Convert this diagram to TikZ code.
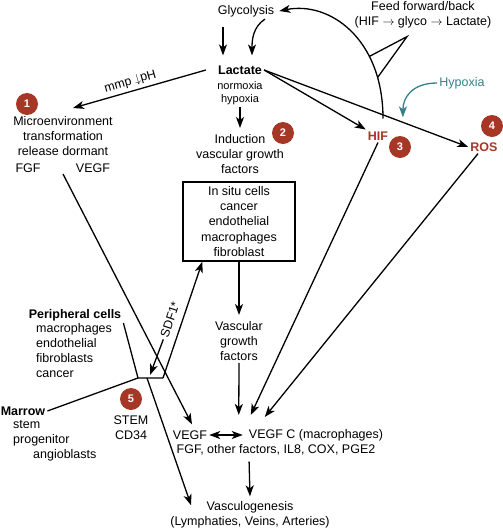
\documentclass[tikz,border=0pt]{standalone}
\usepackage{fontspec}
\setmainfont{Liberation Sans}
\usetikzlibrary{arrows.meta}

\definecolor{figred}{RGB}{166,55,38}
\definecolor{figteal}{RGB}{52,128,140}

\tikzset{
  lbl/.style={font=\fontsize{12.5}{15.2}\selectfont, align=center, inner sep=2pt},
  sublbl/.style={font=\fontsize{11}{13.3}\selectfont, align=center, inner sep=2pt},
  redlbl/.style={lbl, text=figred, font=\fontsize{12.5}{15.2}\selectfont\bfseries},
  badge/.style={circle, fill=figred, text=white, inner sep=0pt, minimum size=22pt, font=\fontsize{11}{11}\selectfont\bfseries},
  conn/.style={line width=1.3pt},
  arr/.style={conn, ->},
  arrtwo/.style={conn, <->}
}

\begin{document}
\begin{tikzpicture}[x=1pt,y=-1pt,>={Stealth[length=11pt,width=8pt,inset=3pt]}]
\useasboundingbox (0,0) rectangle (503,531);

% top row
\node[lbl] (glyco) at (246,11) {Glycolysis};
\node[lbl] (lactate) at (240,70) {\textbf{Lactate}};
\node[sublbl] (oxia) at (240,93) {normoxia\\hypoxia};
\node[lbl] (fb) at (423,15) {Feed forward/back\\(HIF $\rightarrow$ glyco $\rightarrow$ Lactate)};
\node[lbl, text=figteal] (hypox) at (462,83) {Hypoxia};
\node[redlbl] (hif) at (378,136) {HIF};
\node[redlbl] (ros) at (484,147) {ROS};
\node[badge] (b3) at (400,147) {3};
\node[badge] (b4) at (492,126) {4};

% microenvironment
\node[badge] (b1) at (27,104) {1};
\node[lbl] (micro) at (63,136) {Microenvironment\\transformation\\release dormant};
\node[lbl] (fgfl) at (28,168) {FGF};
\node[lbl] (vegfl) at (93,168) {VEGF};
\coordinate (mstart) at (63,174);

% middle column
\node[lbl] (induct) at (240,154) {Induction\\vascular growth\\factors};
\node[badge] (b2) at (283,133) {2};
\node[lbl, draw, line width=1.3pt, minimum width=112pt, minimum height=79pt] (insitu) at (239,221.5) {In situ cells\\cancer\\endothelial\\macrophages\\fibroblast};
\node[lbl] (vgf) at (239,341) {Vascular\\growth\\factors};

% bottom
\node[lbl] (vegf) at (190,435) {VEGF};
\node[lbl] (vegfc) at (316,435) {VEGF C (macrophages)};
\node[lbl] (fgfrow) at (276,450) {FGF, other factors, IL8, COX, PGE2};
\node[lbl] (vasc) at (250,515) {Vasculogenesis\\(Lymphaties, Veins, Arteries)};

% marrow side
\node[lbl] (peri) at (75,315) {\textbf{Peripheral cells}};
\node[lbl, align=left, anchor=north west, inner sep=0pt] (perisub) at (36,323) {macrophages\\endothelial\\fibroblasts\\cancer};
\node[lbl] (marrow) at (23,411) {\textbf{Marrow}};
\node[lbl, align=left, anchor=north west, inner sep=0pt] (marrowsub) at (13,420) {stem\\progenitor\\\hspace*{20pt}angioblasts};
\node[badge] (b5) at (131,399) {5};
\node[lbl] (stem) at (131,428) {STEM\\CD34};
\coordinate (pa) at (138,378);
\coordinate (pb) at (163,378);
\coordinate (pc) at (147,378);
\coordinate (pm) at (150,375);

% glycolysis loop
\draw[arr, shorten <=8pt] ([xshift=-23pt]glyco.south) -- ([xshift=-17pt,yshift=8pt]lactate.north);
\draw[arr] ([xshift=19pt]glyco.south) .. controls +(-12,8) and +(0,-16) .. ([xshift=12pt,yshift=8pt]lactate.north);
\draw[arr] ([xshift=5pt,yshift=11pt]hif.north) .. controls +(0,-80) and +(50,-10) .. ([xshift=3pt]glyco.east)
  coordinate[pos=0.19] (w1) coordinate[pos=0.31] (w2);
\draw[conn] (w1) -- ([xshift=-16pt,yshift=-6pt]fb.south) -- (w2);

% from lactate
\draw[arr] ([xshift=-10pt]lactate.west) -- node[lbl, sloped, above=1pt, pos=0.55] (mmp) {mmp $\downarrow$pH} ([xshift=10pt,yshift=6pt]micro.north);
\draw[arr] (lactate.east) -- (hif.north west);
\draw[arr] (lactate.east) -- (ros.west) coordinate[pos=0.68] (hx);
\draw[arr, figteal] (hypox.west) .. controls +(-25,0) and +(0,-20) .. ([yshift=5pt]hx);
\draw[arr] (oxia.south) -- ([yshift=4pt]induct.north);

% down the middle
\draw[arr] (insitu.south) -- ([yshift=4pt]vgf.north);
\draw[arr] (vgf.south) -- ([xshift=-8pt,yshift=12pt]vegfc.north west);
\draw[arr] (hif.south) -- ([xshift=4pt,yshift=12pt]vegfc.north west);
\draw[arr] ([xshift=-6pt]ros.south) -- ([xshift=18pt,yshift=10pt]vegfc.north west);
\draw[arrtwo, shorten >=4pt] (vegf.east) -- (vegfc.west);
\draw[arr, shorten <=4pt] ([xshift=-27pt]fgfrow.south) -- ([yshift=3pt]vasc.north);

% marrow side
\draw[arr] (mstart) -- ([xshift=2pt,yshift=4pt]vegf.north);
\draw[conn] (peri.south east) -- (pa) -- (pb);
\draw[arr] (pb) -- node[lbl, sloped, above=5pt, pos=0.47] (sdf) {SDF1*} ([xshift=20pt]insitu.south west);
\draw[arr] (sdf.west) -- (pm);
\draw[conn] (marrow.east) -- (pa);
\draw[arr] (pc) -- ([xshift=23pt,yshift=-6pt]vasc.north west);
\end{tikzpicture}
\end{document}
